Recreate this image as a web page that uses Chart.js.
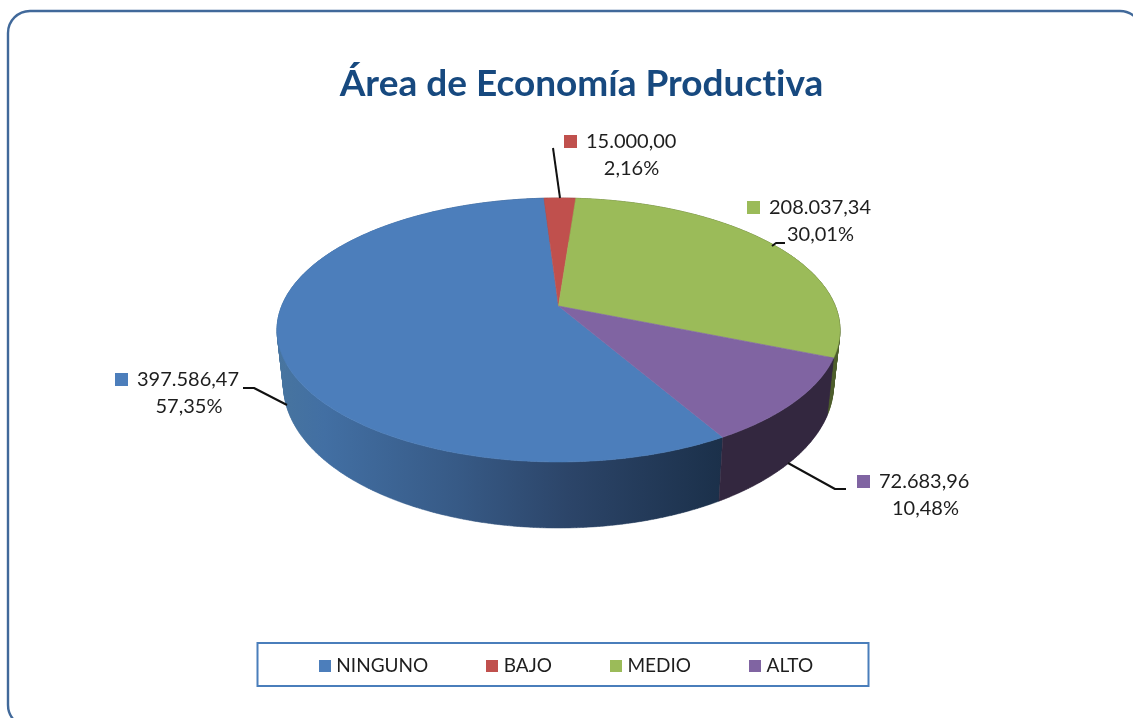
<!DOCTYPE html>
<html>
<head>
<meta charset="utf-8">
<style>html,body{margin:0;padding:0;background:#fff;overflow:hidden}canvas{display:block;filter:blur(0.4px)}</style>
<script src="https://cdn.jsdelivr.net/npm/chart.js@4/dist/chart.umd.js"></script>
</head>
<body>
<canvas id="c" width="1133" height="718"></canvas>
<script>
const TITLE = 'Área de Economía Productiva';
const categories = ['NINGUNO', 'BAJO', 'MEDIO', 'ALTO'];
const amounts = [397586.47, 15000.00, 208037.34, 72683.96];
const percentLabels = ['57,35%', '2,16%', '30,01%', '10,48%'];
const colors = ['#4c7ebb', '#c0504d', '#9bbb59', '#8064a2'];

const FONT = 'Lato, Carlito, sans-serif';
const INK = '#1e1e1e';

// Perspective of the disc: lid and floor of the 3D pie
const P = 0.1818;
const LID = { cx: 558.5, y0: 306, rx: 276.8, a: 127.6 };
const FLOOR = { cx: 558.5, y0: 359, rx: 270.4, a: 138.3 };
const project = (g, t) => {
  const w = 1 - P * Math.sin(t);
  return [g.cx + g.rx * Math.cos(t) / w, g.y0 + g.a * Math.sin(t) / w];
};

// Callout placement: marker, value line, percent line, leader
const callouts = [
  { mx: 115, my: 373, vx: 137, vy: 380, px: 189, py: 407, lead: [[243,388],[254,388],[287,405]] },
  { mx: 564, my: 135, vx: 586, vy: 142, px: 631.5, py: 169, lead: [[553,148],[560,198]] },
  { mx: 747, my: 201, vx: 769, vy: 208, px: 820.5, py: 235, lead: [[772,246],[776,243],[785,243]] },
  { mx: 857, my: 475, vx: 879, vy: 482, px: 925.5, py: 509, lead: [[788,463],[835,489],[846,489]] }
];

const fmt = v => {
  const [i, d] = v.toFixed(2).split('.');
  return i.replace(/\B(?=(\d{3})+$)/g, '.') + ',' + d;
};

function facePath(ctx, el) {
  const { startAngle: s, endAngle: e } = el.getProps(['startAngle', 'endAngle'], true);
  const n = Math.max(2, Math.ceil((e - s) / 0.01));
  ctx.beginPath();
  ctx.moveTo(LID.cx, LID.y0);
  for (let i = 0; i <= n; i++) {
    const p = project(LID, s + (e - s) * i / n);
    ctx.lineTo(p[0], p[1]);
  }
  ctx.closePath();
}

function wall(ctx, el, fill) {
  const { startAngle: s, endAngle: e } = el.getProps(['startAngle', 'endAngle'], true);
  const n = Math.max(2, Math.ceil((e - s) / 0.01));
  ctx.beginPath();
  for (let i = 0; i < n; i++) {
    const a = s + (e - s) * i / n, b = s + (e - s) * (i + 1) / n;
    const p1 = project(LID, a), p2 = project(LID, b), p3 = project(FLOOR, b), p4 = project(FLOOR, a);
    ctx.moveTo(p1[0], p1[1]);
    ctx.lineTo(p2[0], p2[1]);
    ctx.lineTo(p3[0], p3[1]);
    ctx.lineTo(p4[0], p4[1]);
    ctx.closePath();
  }
  ctx.fillStyle = fill;
  ctx.strokeStyle = fill;
  ctx.lineWidth = 0.5;
  ctx.stroke();
  ctx.fill();
}

const pie3d = {
  id: 'pie3d',
  afterLayout(chart) {
    const legend = chart.legend, title = chart.titleBlock;
    title.left += 15; title.right += 15;
    title.top = 62;
    legend.left += 1.5; legend.right += 1.5;
    legend.top = 668 - legend.options.labels.padding - 12;
  },
  beforeDraw(chart) {
    const ctx = chart.ctx;
    ctx.textRendering = 'optimizeSpeed';
    ctx.save();
    ctx.fillStyle = '#fff';
    ctx.fillRect(0, 0, chart.width, chart.height);
    ctx.strokeStyle = '#41699a';
    ctx.lineWidth = 2.4;
    ctx.beginPath();
    ctx.roundRect(8, 11, 1134, 716, 22);
    ctx.stroke();
    ctx.strokeStyle = '#4a7ebb';
    ctx.lineWidth = 2;
    ctx.strokeRect(257.5, 643, 611, 43);
    ctx.restore();
  },
  beforeDatasetsDraw(chart) {
    const ctx = chart.ctx;
    const arcs = chart.getDatasetMeta(0).data;
    const g = ctx.createLinearGradient(280, 0, 722, 0);
    g.addColorStop(0, '#47749f');
    g.addColorStop(0.1, '#426fa3');
    g.addColorStop(0.4, '#375a86');
    g.addColorStop(0.65, '#2c4569');
    g.addColorStop(1, '#1b304a');
    const fills = [g, '#5e2a28', '#4e5e2c', '#33273f'];
    ctx.save();
    [2, 1, 0, 3].forEach(i => wall(ctx, arcs[i], fills[i]));
    ctx.restore();
    arcs.forEach(el => {
      el.draw = function (c) {
        c.save();
        facePath(c, this);
        c.fillStyle = this.options.backgroundColor;
        c.strokeStyle = this.options.backgroundColor;
        c.lineWidth = 0.6;
        c.fill();
        c.stroke();
        c.restore();
      };
    });
  },
  afterDraw(chart) {
    const ctx = chart.ctx;
    ctx.save();
    ctx.textRendering = 'auto';
    ctx.font = '20px ' + FONT;
    ctx.textBaseline = 'middle';
    callouts.forEach((c, i) => {
      ctx.strokeStyle = '#111';
      ctx.lineWidth = 2;
      ctx.lineJoin = 'round';
      ctx.beginPath();
      c.lead.forEach((p, k) => k ? ctx.lineTo(p[0], p[1]) : ctx.moveTo(p[0], p[1]));
      ctx.stroke();
      ctx.fillStyle = colors[i];
      ctx.fillRect(c.mx, c.my, 13, 13);
      ctx.fillStyle = INK;
      ctx.textAlign = 'left';
      ctx.fillText(fmt(amounts[i]), c.vx, c.vy);
      ctx.textAlign = 'center';
      ctx.fillText(percentLabels[i], c.px, c.py);
    });
    ctx.restore();
  }
};

const swatch = color => {
  const s = document.createElement('canvas');
  s.width = 12; s.height = 12;
  const x = s.getContext('2d');
  x.fillStyle = color;
  x.fillRect(0, 0, 12, 12);
  return s;
};

new Chart(document.getElementById('c'), {
  type: 'pie',
  data: {
    labels: categories,
    datasets: [{ data: amounts, backgroundColor: colors, borderWidth: 0 }]
  },
  options: {
    responsive: false,
    animation: false,
    rotation: 150,
    plugins: {
      tooltip: { enabled: false },
      title: {
        display: true,
        text: TITLE,
        color: '#17497f',
        font: { family: FONT, size: 37, weight: 'bold' },
        padding: 0
      },
      legend: {
        position: 'bottom',
        labels: {
          font: { family: FONT, size: 19 },
          color: INK,
          usePointStyle: true,
          pointStyleWidth: 4,
          padding: 62,
          generateLabels(chart) {
            return categories.map((name, i) => ({
              text: name,
              fillStyle: colors[i],
              strokeStyle: colors[i],
              lineWidth: 0,
              pointStyle: swatch(colors[i]),
              fontColor: INK,
              index: i,
              hidden: false
            }));
          }
        }
      }
    }
  },
  plugins: [pie3d]
});
</script>
</body>
</html>
